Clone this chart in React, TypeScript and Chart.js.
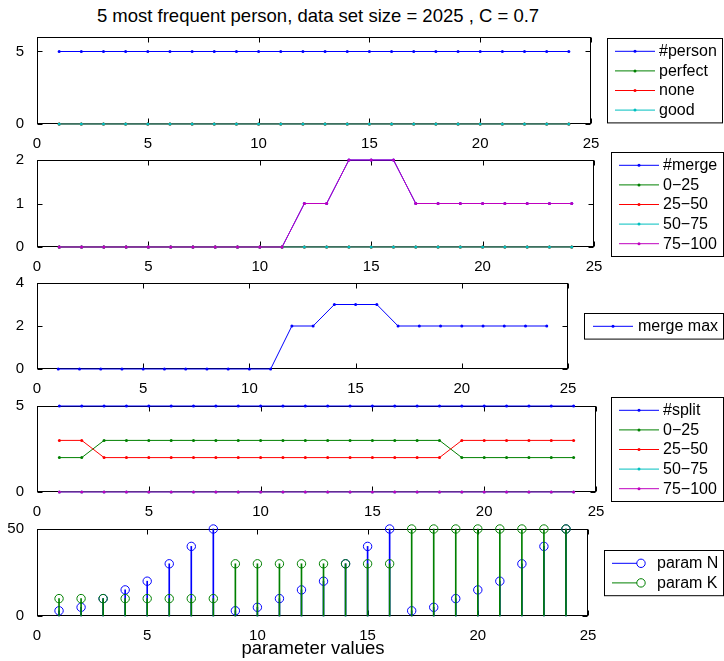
import React, { useEffect, useRef } from 'react';
import { Chart, registerables } from 'chart.js';

Chart.register(...registerables);

const FONT = '"Liberation Sans", Arial, Helvetica, sans-serif';
const BLUE = '#0000ff';
const GREEN = '#008000';
const RED = '#ff0000';
const CYAN = '#00bfbf';
const MAGENTA = '#bf00bf';

// ---------- data ----------
const paramIndex = [1, 2, 3, 4, 5, 6, 7, 8, 9, 10, 11, 12, 13, 14, 15, 16, 17, 18, 19, 20, 21, 22, 23, 24];
const xTickStep = 5;

const personCount = [5, 5, 5, 5, 5, 5, 5, 5, 5, 5, 5, 5, 5, 5, 5, 5, 5, 5, 5, 5, 5, 5, 5, 5];
const personPerfect = [0, 0, 0, 0, 0, 0, 0, 0, 0, 0, 0, 0, 0, 0, 0, 0, 0, 0, 0, 0, 0, 0, 0, 0];
const personNone = [0, 0, 0, 0, 0, 0, 0, 0, 0, 0, 0, 0, 0, 0, 0, 0, 0, 0, 0, 0, 0, 0, 0, 0];
const personGood = [0, 0, 0, 0, 0, 0, 0, 0, 0, 0, 0, 0, 0, 0, 0, 0, 0, 0, 0, 0, 0, 0, 0, 0];
const personYTicks = [0, 5];

const mergeCount = [0, 0, 0, 0, 0, 0, 0, 0, 0, 0, 0, 1, 1, 2, 2, 2, 1, 1, 1, 1, 1, 1, 1, 1];
const merge0to25 = [0, 0, 0, 0, 0, 0, 0, 0, 0, 0, 0, 0, 0, 0, 0, 0, 0, 0, 0, 0, 0, 0, 0, 0];
const merge25to50 = [0, 0, 0, 0, 0, 0, 0, 0, 0, 0, 0, 0, 0, 0, 0, 0, 0, 0, 0, 0, 0, 0, 0, 0];
const merge50to75 = [0, 0, 0, 0, 0, 0, 0, 0, 0, 0, 0, 0, 0, 0, 0, 0, 0, 0, 0, 0, 0, 0, 0, 0];
const merge75to100 = [0, 0, 0, 0, 0, 0, 0, 0, 0, 0, 0, 1, 1, 2, 2, 2, 1, 1, 1, 1, 1, 1, 1, 1];
const mergeYTicks = [0, 1, 2];

const mergeMax = [0, 0, 0, 0, 0, 0, 0, 0, 0, 0, 0, 2, 2, 3, 3, 3, 2, 2, 2, 2, 2, 2, 2, 2];
const mergeMaxYTicks = [0, 2, 4];

const splitCount = [5, 5, 5, 5, 5, 5, 5, 5, 5, 5, 5, 5, 5, 5, 5, 5, 5, 5, 5, 5, 5, 5, 5, 5];
const split0to25 = [2, 2, 3, 3, 3, 3, 3, 3, 3, 3, 3, 3, 3, 3, 3, 3, 3, 3, 2, 2, 2, 2, 2, 2];
const split25to50 = [3, 3, 2, 2, 2, 2, 2, 2, 2, 2, 2, 2, 2, 2, 2, 2, 2, 2, 3, 3, 3, 3, 3, 3];
const split50to75 = [0, 0, 0, 0, 0, 0, 0, 0, 0, 0, 0, 0, 0, 0, 0, 0, 0, 0, 0, 0, 0, 0, 0, 0];
const split75to100 = [0, 0, 0, 0, 0, 0, 0, 0, 0, 0, 0, 0, 0, 0, 0, 0, 0, 0, 0, 0, 0, 0, 0, 0];
const splitYTicks = [0, 5];

const paramN = [3, 5, 10, 15, 20, 30, 40, 50, 3, 5, 10, 15, 20, 30, 40, 50, 3, 5, 10, 15, 20, 30, 40, 50];
const paramK = [10, 10, 10, 10, 10, 10, 10, 10, 30, 30, 30, 30, 30, 30, 30, 30, 50, 50, 50, 50, 50, 50, 50, 50];
const paramYTicks = [0, 50];

const titleText = '5 most frequent person, data set size = 2025 , C = 0.7';
const xLabelText = 'parameter values';

// ---------- plugins ----------
const boxPlugin = {
  id: 'mBox',
  beforeDatasetsDraw(chart: any) {
    const { ctx, chartArea: a, scales } = chart;
    ctx.save();
    ctx.strokeStyle = '#000';
    ctx.lineWidth = 1;
    const L = Math.round(a.left) + 0.5;
    const R = Math.round(a.right) - 0.5;
    const T = Math.round(a.top) + 0.5;
    const B = Math.round(a.bottom) - 0.5;
    ctx.strokeRect(L, T, R - L, B - T);
    const tl = 5;
    ctx.beginPath();
    scales.x.ticks.forEach((t: any) => {
      const px = Math.round(scales.x.getPixelForValue(t.value)) + 0.5;
      ctx.moveTo(px, B);
      ctx.lineTo(px, B - tl);
      ctx.moveTo(px, T);
      ctx.lineTo(px, T + tl);
    });
    scales.y.ticks.forEach((t: any) => {
      const py = Math.round(scales.y.getPixelForValue(t.value)) + 0.5;
      ctx.moveTo(L, py);
      ctx.lineTo(L + tl, py);
      ctx.moveTo(R, py);
      ctx.lineTo(R - tl, py);
    });
    ctx.stroke();
    ctx.restore();
  },
};

const legendPlugin = {
  id: 'mLegend',
  afterDraw(chart: any, _args: any, opts: any) {
    if (!opts || !opts.items) return;
    const { ctx, chartArea: a } = chart;
    const items = opts.items;
    const rowH = 19.6;
    const h = items.length * rowH + 6;
    const cy = (a.top + a.bottom) / 2;
    const top = Math.round(cy - h / 2) + 0.5;
    const left = opts.left + 0.5;
    const w = opts.right - opts.left;
    ctx.save();
    ctx.fillStyle = '#fff';
    ctx.fillRect(left, top, w, h);
    ctx.strokeStyle = '#000';
    ctx.lineWidth = 1;
    ctx.strokeRect(left, top, w, h);
    ctx.font = '16px ' + FONT;
    ctx.textBaseline = 'middle';
    ctx.textAlign = 'left';
    items.forEach((it: any, i: number) => {
      const y = top + 3 + rowH / 2 + i * rowH;
      ctx.strokeStyle = it.color;
      ctx.fillStyle = it.color;
      ctx.lineWidth = 1;
      if (it.kind === 'stem') {
        ctx.beginPath();
        ctx.moveTo(opts.left + 8, y);
        ctx.lineTo(opts.left + 33, y);
        ctx.stroke();
        ctx.beginPath();
        ctx.arc(opts.left + 37, y, 4.2, 0, Math.PI * 2);
        ctx.stroke();
      } else {
        ctx.beginPath();
        ctx.moveTo(opts.left + opts.lineStart, y);
        ctx.lineTo(opts.left + opts.lineStart + 40, y);
        ctx.stroke();
        ctx.beginPath();
        ctx.arc(opts.left + opts.lineStart + 20, y, 1.5, 0, Math.PI * 2);
        ctx.fill();
      }
      ctx.fillStyle = '#000';
      ctx.fillText(it.label, opts.left + opts.textStart, y + 0.5);
    });
    ctx.restore();
  },
};

// ---------- helpers ----------
function lineSet(label: string, values: number[], color: string, i: number) {
  return {
    type: 'line',
    label,
    data: paramIndex.map((x, k) => ({ x, y: values[k] })),
    borderColor: color,
    backgroundColor: color,
    borderWidth: 1,
    pointRadius: 1.5,
    pointBorderWidth: 0,
    pointBackgroundColor: color,
    pointStyle: 'circle',
    tension: 0,
    clip: false,
    order: -i,
  };
}

function stemSets(label: string, values: number[], color: string, i: number) {
  const data = paramIndex.map((x, k) => ({ x, y: values[k] }));
  return [
    {
      type: 'bar',
      label: label + ' stem',
      data,
      backgroundColor: color,
      borderWidth: 0,
      barThickness: 1,
      grouped: false,
      clip: false,
      order: -(2 * i),
    },
    {
      type: 'line',
      label,
      data,
      showLine: false,
      borderColor: color,
      backgroundColor: 'rgba(0,0,0,0)',
      pointRadius: 4.2,
      pointBorderWidth: 1,
      pointBorderColor: color,
      pointBackgroundColor: 'rgba(0,0,0,0)',
      pointStyle: 'circle',
      clip: false,
      order: -(2 * i + 1),
    },
  ];
}

type PanelProps = {
  top: number;
  bottom: number;
  right: number;
  yMax: number;
  yTicks: number[];
  datasets: any[];
  legend: any;
};

const PAD_TOP = 12;
const X_AXIS_H = 26;
const Y_AXIS_W = 37;
const FIG_W = 724;

function Panel({ top, bottom, right, yMax, yTicks, datasets, legend }: PanelProps) {
  const ref = useRef<HTMLCanvasElement | null>(null);
  const height = bottom - top + PAD_TOP + X_AXIS_H;
  useEffect(() => {
    if (!ref.current) return;
    const chart = new Chart(ref.current, {
      type: 'line',
      data: { datasets } as any,
      plugins: [boxPlugin, legendPlugin],
      options: {
        responsive: false,
        animation: false,
        events: [],
        layout: { padding: { top: PAD_TOP, right: FIG_W - right, left: 0, bottom: 0 } },
        scales: {
          x: {
            type: 'linear',
            min: 0,
            max: 25,
            offset: false,
            grid: { display: false },
            border: { display: false },
            ticks: {
              stepSize: xTickStep,
              autoSkip: false,
              maxRotation: 0,
              padding: 3,
              color: '#000',
              font: { family: FONT, size: 15 },
            },
            afterFit: (s: any) => {
              s.height = X_AXIS_H;
            },
          },
          y: {
            type: 'linear',
            min: 0,
            max: yMax,
            grid: { display: false },
            border: { display: false },
            ticks: {
              padding: 5,
              color: '#000',
              font: { family: FONT, size: 15 },
            },
            afterBuildTicks: (s: any) => {
              s.ticks = yTicks.map((v) => ({ value: v }));
            },
            afterFit: (s: any) => {
              s.width = Y_AXIS_W;
            },
          },
        },
        plugins: {
          legend: { display: false },
          tooltip: { enabled: false },
          title: { display: false },
          mLegend: legend,
        } as any,
      } as any,
    });
    return () => chart.destroy();
  }, []);
  return (
    <canvas
      ref={ref}
      width={FIG_W}
      height={height}
      style={{ position: 'absolute', left: 0, top: top - PAD_TOP, width: FIG_W, height }}
    />
  );
}

export default function App() {
  const panels: PanelProps[] = [
    {
      top: 35,
      bottom: 124,
      right: 591,
      yMax: 6,
      yTicks: personYTicks,
      datasets: [
        lineSet('#person', personCount, BLUE, 0),
        lineSet('perfect', personPerfect, GREEN, 1),
        lineSet('none', personNone, RED, 2),
        lineSet('good', personGood, CYAN, 3),
      ],
      legend: {
        left: 607,
        right: 722,
        lineStart: 8,
        textStart: 52,
        items: [
          { label: '#person', color: BLUE },
          { label: 'perfect', color: GREEN },
          { label: 'none', color: RED },
          { label: 'good', color: CYAN },
        ],
      },
    },
    {
      top: 158,
      bottom: 247,
      right: 594,
      yMax: 2,
      yTicks: mergeYTicks,
      datasets: [
        lineSet('#merge', mergeCount, BLUE, 0),
        lineSet('0\u201325', merge0to25, GREEN, 1),
        lineSet('25\u201350', merge25to50, RED, 2),
        lineSet('50\u201375', merge50to75, CYAN, 3),
        lineSet('75\u2013100', merge75to100, MAGENTA, 4),
      ],
      legend: {
        left: 611,
        right: 723,
        lineStart: 8,
        textStart: 52,
        items: [
          { label: '#merge', color: BLUE },
          { label: '0\u221225', color: GREEN },
          { label: '25\u221250', color: RED },
          { label: '50\u221275', color: CYAN },
          { label: '75\u2212100', color: MAGENTA },
        ],
      },
    },
    {
      top: 281,
      bottom: 369,
      right: 568,
      yMax: 4,
      yTicks: mergeMaxYTicks,
      datasets: [lineSet('merge max', mergeMax, BLUE, 0)],
      legend: {
        left: 584,
        right: 723,
        lineStart: 9,
        textStart: 54,
        items: [{ label: 'merge max', color: BLUE }],
      },
    },
    {
      top: 404,
      bottom: 492,
      right: 596,
      yMax: 5,
      yTicks: splitYTicks,
      datasets: [
        lineSet('#split', splitCount, BLUE, 0),
        lineSet('0\u201325', split0to25, GREEN, 1),
        lineSet('25\u201350', split25to50, RED, 2),
        lineSet('50\u201375', split50to75, CYAN, 3),
        lineSet('75\u2013100', split75to100, MAGENTA, 4),
      ],
      legend: {
        left: 611,
        right: 723,
        lineStart: 8,
        textStart: 52,
        items: [
          { label: '#split', color: BLUE },
          { label: '0\u221225', color: GREEN },
          { label: '25\u221250', color: RED },
          { label: '50\u221275', color: CYAN },
          { label: '75\u2212100', color: MAGENTA },
        ],
      },
    },
    {
      top: 527,
      bottom: 616,
      right: 588,
      yMax: 50,
      yTicks: paramYTicks,
      datasets: [...stemSets('param N', paramN, BLUE, 0), ...stemSets('param K', paramK, GREEN, 1)],
      legend: {
        left: 604,
        right: 723,
        lineStart: 8,
        textStart: 53,
        items: [
          { label: 'param N', color: BLUE, kind: 'stem' },
          { label: 'param K', color: GREEN, kind: 'stem' },
        ],
      },
    },
  ];

  return (
    <div
      style={{
        position: 'absolute',
        left: 0,
        top: 0,
        width: FIG_W,
        height: 661,
        background: '#fff',
        overflow: 'hidden',
        fontFamily: FONT,
      }}
    >
      <div
        style={{
          position: 'absolute',
          left: 0,
          top: 5,
          width: 636,
          textAlign: 'center',
          fontSize: 18.5,
          lineHeight: '22px',
          color: '#000',
          whiteSpace: 'nowrap',
        }}
      >
        {titleText}
      </div>
      {panels.map((p, i) => (
        <Panel key={i} {...p} />
      ))}
      <div
        style={{
          position: 'absolute',
          left: 0,
          top: 637,
          width: 626,
          textAlign: 'center',
          fontSize: 18.5,
          lineHeight: '22px',
          color: '#000',
          whiteSpace: 'nowrap',
        }}
      >
        {xLabelText}
      </div>
    </div>
  );
}
